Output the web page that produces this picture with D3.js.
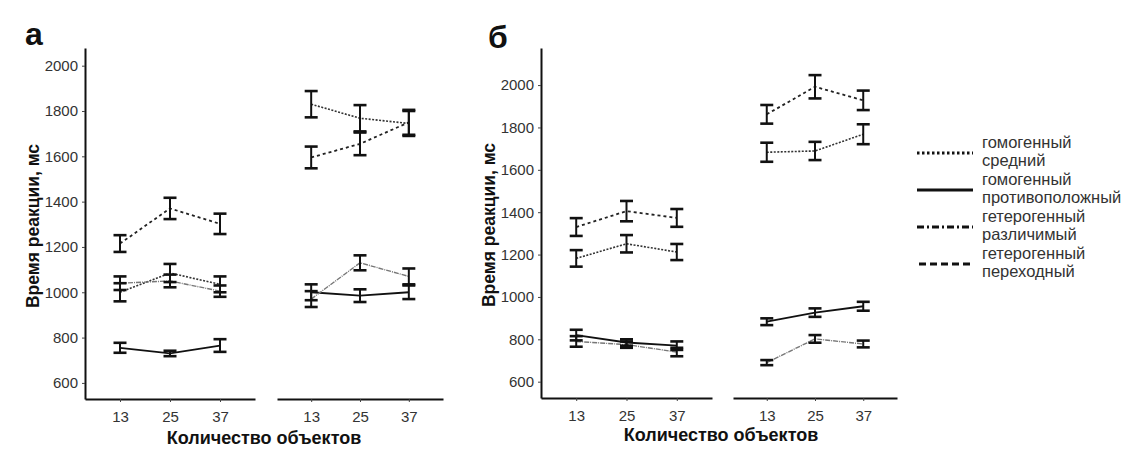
<!DOCTYPE html>
<html>
<head>
<meta charset="utf-8">
<script src="https://cdn.jsdelivr.net/npm/d3@7"></script>
<style>
  body { margin: 0; background: #fff; }
  svg { display: block; font-family: "Liberation Sans", Arial, sans-serif; }
</style>
</head>
<body>
<div id="chart"></div>
<script>
// ── Data ──────────────────────────────────────────────────────────────────
const counts = ['13', '25', '37'];
const yTicks = [600, 800, 1000, 1200, 1400, 1600, 1800, 2000];

// series order: средний, противоположный, различимый, переходный
const seriesLabels = [
  ['гомогенный', 'средний'],
  ['гомогенный', 'противоположный'],
  ['гетерогенный', 'различимый'],
  ['гетерогенный', 'переходный']
];

// panel а, left block
const aLeftMean = [[1000, 1085, 1035], [755, 730, 765], [1040, 1050, 1005], [1215, 1370, 1302]];
const aLeftErr  = [[40, 40, 35], [22, 12, 28], [30, 28, 25], [37, 47, 45]];
// panel а, right block
const aRightMean = [[1830, 1768, 1745], [1000, 985, 1000], [970, 1130, 1070], [1595, 1655, 1750]];
const aRightErr  = [[58, 58, 55], [35, 28, 30], [35, 33, 35], [48, 50, 55]];
// panel б, left block
const bLeftMean = [[1182, 1251, 1212], [820, 785, 770], [790, 775, 740], [1330, 1405, 1373]];
const bLeftErr  = [[39, 41, 38], [25, 15, 20], [25, 15, 20], [42, 48, 42]];
// panel б, right block
const bRightMean = [[1683, 1689, 1768], [883, 926, 956], [690, 802, 778], [1862, 1992, 1928]];
const bRightErr  = [[45, 43, 47], [16, 20, 21], [12, 18, 16], [44, 55, 46]];

// ── Styles ────────────────────────────────────────────────────────────────
const lineStyle = [
  { stroke: '#333', width: 1.6, dash: '2,1.5' },
  { stroke: '#111', width: 1.8, dash: null },
  { stroke: '#777', width: 1.4, dash: '5,1,1,1' },
  { stroke: '#222', width: 1.8, dash: '3,3' }
];
const legendStyle = [
  { dash: '2.5,2.5', offset: 0 },
  { dash: null, offset: 0 },
  { dash: '7,3,2,3', offset: 0 },
  { dash: '7,4', offset: 9 }
];

const W = 1134, H = 450;
const svg = d3.select('#chart').append('svg').attr('width', W).attr('height', H);

const panels = [
  { label: 'а', labelX: 25, labelY: 45, axisX: 85, top: 48, bottom: 399, domain: [529, 2078],
    titleX: 33, titleY: 226, xTitleX: 264, xTitleY: 444,
    blocks: [{ range: [85, 255], mean: aLeftMean, err: aLeftErr },
             { range: [277, 443], mean: aRightMean, err: aRightErr }] },
  { label: 'б', labelX: 488, labelY: 48, axisX: 541, top: 48, bottom: 398, domain: [523, 2175],
    titleX: 489, titleY: 225, xTitleX: 721, xTitleY: 441,
    blocks: [{ range: [541, 712], mean: bLeftMean, err: bLeftErr },
             { range: [733, 897], mean: bRightMean, err: bRightErr }] }
];

panels.forEach(p => {
  const y = d3.scaleLinear().domain(p.domain).range([p.bottom, p.top]);

  // Y axis
  svg.append('g')
    .attr('transform', `translate(${p.axisX},0)`)
    .call(d3.axisLeft(y).tickValues(yTicks).tickFormat(d3.format('d')).tickSize(3).tickPadding(4).tickSizeOuter(0))
    .call(ax => ax.select('.domain').attr('stroke', '#111').attr('stroke-width', 2))
    .call(ax => ax.selectAll('line').attr('stroke', '#444'))
    .call(ax => ax.selectAll('text').attr('fill', '#333').style('font-size', '15px'));

  p.blocks.forEach(b => {
    const x = d3.scalePoint().domain(counts).range(b.range).padding(0.7);

    // X axis segment
    svg.append('g')
      .attr('transform', `translate(0,${p.bottom})`)
      .call(d3.axisBottom(x).tickSize(3).tickPadding(9).tickSizeOuter(0))
      .call(ax => ax.select('.domain').attr('stroke', '#111').attr('stroke-width', 2))
      .call(ax => ax.selectAll('line').attr('stroke', '#444'))
      .call(ax => ax.selectAll('text').attr('fill', '#333').style('font-size', '15px'));

    const line = d3.line().x((d, i) => x(counts[i])).y(d => y(d));

    b.mean.forEach((vals, s) => {
      const st = lineStyle[s];
      svg.append('path')
        .datum(vals)
        .attr('fill', 'none')
        .attr('stroke', st.stroke)
        .attr('stroke-width', st.width)
        .attr('stroke-dasharray', st.dash)
        .attr('d', line);
    });

    // Error bars
    b.mean.forEach((vals, s) => {
      vals.forEach((v, i) => {
        const cx = x(counts[i]);
        const e = b.err[s][i];
        const g = svg.append('g').attr('stroke', '#111');
        g.append('line').attr('x1', cx).attr('x2', cx)
          .attr('y1', y(v - e)).attr('y2', y(v + e)).attr('stroke-width', 2);
        [v - e, v + e].forEach(w => {
          g.append('line').attr('x1', cx - 6.5).attr('x2', cx + 6.5)
            .attr('y1', y(w)).attr('y2', y(w)).attr('stroke-width', 2.6);
        });
      });
    });
  });

  // Titles
  svg.append('text')
    .attr('transform', `translate(${p.titleX},${p.titleY}) rotate(-90)`)
    .attr('text-anchor', 'middle').attr('dy', '0.35em')
    .style('font-size', '17.5px').style('font-weight', 'bold').attr('fill', '#111')
    .text('Время реакции, мс');

  svg.append('text')
    .attr('x', p.xTitleX).attr('y', p.xTitleY)
    .attr('text-anchor', 'middle')
    .style('font-size', '18px').style('font-weight', 'bold').attr('fill', '#111')
    .text('Количество объектов');

  svg.append('text')
    .attr('x', p.labelX).attr('y', p.labelY)
    .style('font-size', '32px').style('font-weight', 'bold').attr('fill', '#111')
    .text(p.label);
});

// ── Legend ────────────────────────────────────────────────────────────────
const legendY = [153, 190, 227, 264];
seriesLabels.forEach((lab, i) => {
  const ly = legendY[i];
  svg.append('line')
    .attr('x1', 917).attr('x2', 973).attr('y1', ly).attr('y2', ly)
    .attr('stroke', '#111').attr('stroke-width', 3)
    .attr('stroke-dasharray', legendStyle[i].dash)
    .attr('stroke-dashoffset', legendStyle[i].offset);
  lab.forEach((t, k) => {
    svg.append('text')
      .attr('x', 982).attr('y', ly - 5 + k * 18)
      .style('font-size', '16.5px').attr('fill', '#333')
      .text(t);
  });
});
</script>
</body>
</html>
